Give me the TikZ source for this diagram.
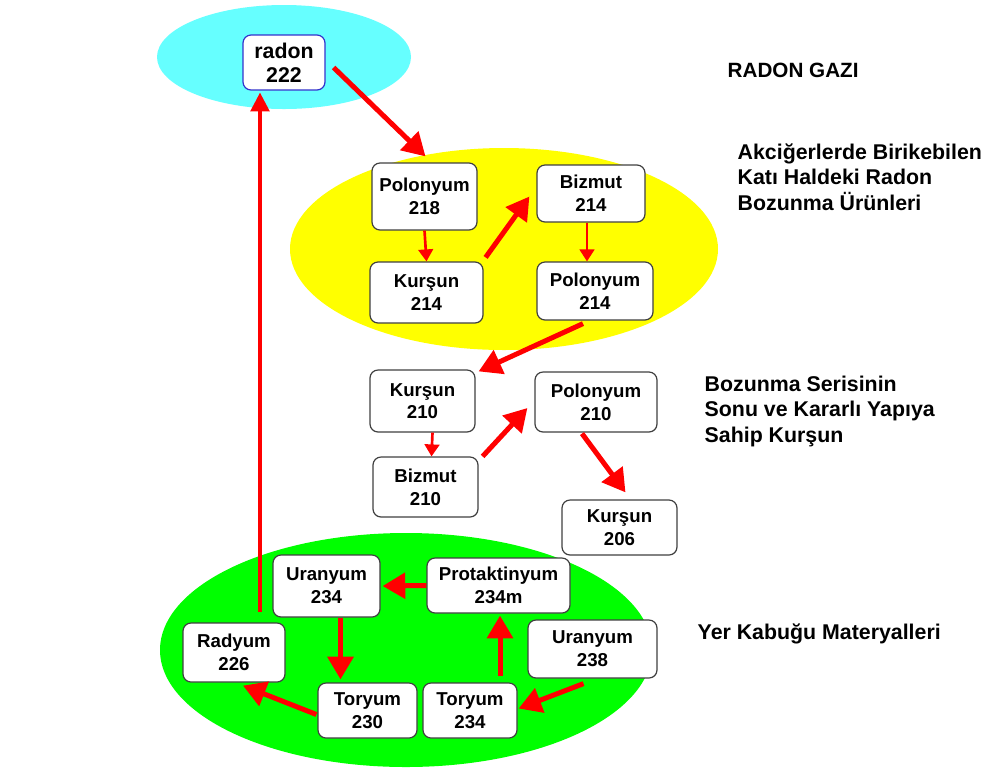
\documentclass[tikz,border=0pt]{standalone}
\usepackage{fontspec}
\setmainfont{Liberation Sans}
\usetikzlibrary{arrows.meta,calc}
\definecolor{rcyan}{HTML}{66FFFF}
\definecolor{ryellow}{HTML}{FFFF00}
\definecolor{rgreen}{HTML}{00FF00}
\definecolor{rred}{HTML}{FF0000}
\definecolor{rblue}{HTML}{3333CC}
\begin{document}
\begin{tikzpicture}[x=0.75pt,y=-0.75pt,
 box/.style 2 args={draw=black!75, line width=0.9pt, fill=white, rounded corners=6pt,
   minimum width=#1*0.75pt, minimum height=#2*0.75pt, inner sep=0pt, align=center,
   font=\bfseries\fontsize{14}{17}\selectfont},
 bigarrow/.style={draw=rred, line width=3.75pt, -{Triangle[length=17pt,width=19pt]}},
 thinarrow/.style={draw=rred, line width=2pt, -{Triangle[length=9pt,width=11pt]}},
 longarrow/.style={draw=rred, line width=2.4pt, -{Triangle[length=14pt,width=14pt]}},
 sidetext/.style={anchor=base west, align=left, font=\bfseries\fontsize{16}{19}\selectfont}]
\useasboundingbox (0,0) rectangle (989,769);

% background ellipses
\fill[rcyan] (284,57) ellipse [x radius=95.25pt, y radius=39pt];
\fill[ryellow] (504,249) ellipse [x radius=160.5pt, y radius=75.75pt];
\fill[rgreen] (406,650) ellipse [x radius=184.5pt, y radius=87.75pt];

% nodes
\node[box={82}{55}, draw=rblue, font=\bfseries\fontsize{16}{18}\selectfont] (radon) at (284,62.5) {radon\\222};
\node[box={105}{67}] (po218) at (424.5,196.5) {Polonyum\\218};
\node[box={108}{57}] (bi214) at (591,193.5) {Bizmut\\214};
\node[box={113}{61}] (pb214) at (426.5,292.5) {Kurşun\\214};
\node[box={116}{58}] (po214) at (595,291) {Polonyum\\214};
\node[box={105}{62}] (pb210) at (422.5,401) {Kurşun\\210};
\node[box={122}{60}] (po210) at (596,402) {Polonyum\\210};
\node[box={105}{60}] (bi210) at (425.5,487) {Bizmut\\210};
\node[box={115}{55}] (pb206) at (619.5,527.5) {Kurşun\\206};
\node[box={107}{62}] (u234) at (326.5,586) {Uranyum\\234};
\node[box={143}{55}] (pa234) at (498.5,585.5) {Protaktinyum\\234m};
\node[box={102}{59}] (ra226) at (234,652.5) {Radyum\\226};
\node[box={129}{58}] (u238) at (592.5,649) {Uranyum\\238};
\node[box={99}{55}] (th230) at (367.5,710.5) {Toryum\\230};
\node[box={94}{55}] (th234) at (470,710.5) {Toryum\\234};

% side labels
\node[sidetext, font=\bfseries\fontsize{15.5}{19}\selectfont] (t1) at (723,77) {RADON GAZI};
\node[sidetext] (t2) at (733,210) {Akciğerlerde Birikebilen\\Katı Haldeki Radon\\Bozunma Ürünleri};
\node[sidetext] (t3) at (700,442) {Bozunma Serisinin\\Sonu ve Kararlı Yapıya\\Sahip Kurşun};
\node[sidetext] (t4) at (693,639) {Yer Kabuğu Materyalleri};

% connectors
\draw[bigarrow] ($(radon.east)+(8,5)$) -- ($(po218.north)+(1,-6)$);
\draw[longarrow] ($(ra226.north)+(26,-10)$) -- ($(radon.south)+(-24,2)$);
\draw[thinarrow] (po218.south) -- (pb214.north);
\draw[bigarrow] ($(pb214.north east)+(2,-4)$) -- ($(bi214.west)+(-7,3)$);
\draw[thinarrow] ($(bi214.south)+(-4,0)$) -- ($(po214.north)+(-8,0)$);
\draw[bigarrow] ($(po214.south)+(-12,3)$) -- ($(pb210.north east)+(3,2)$);
\draw[thinarrow] ($(pb210.south)+(10,0)$) -- ($(bi210.north)+(6,0)$);
\draw[bigarrow] ($(bi210.north east)+(4,0)$) -- ($(po210.west)+(-7,6)$);
\draw[bigarrow] ($(po210.south)+(-14,1)$) -- ($(pb206.north)+(6,-7)$);
\draw[bigarrow] (pa234.west) -- ($(u234.east)+(2,0)$);
\draw[bigarrow] ($(u234.south)+(14,0)$) -- ($(th230.north)+(-27,-3)$);
\draw[bigarrow] ($(th230.west)+(-1,4)$) -- ($(ra226.south)+(9,3)$);
\draw[bigarrow] ($(th234.north)+(30,-6)$) -- ($(pa234.south)+(1.5,2)$);
\draw[bigarrow] ($(u238.south)+(-9,5)$) -- ($(th234.east)+(1,-2)$);
\end{tikzpicture}
\end{document}
